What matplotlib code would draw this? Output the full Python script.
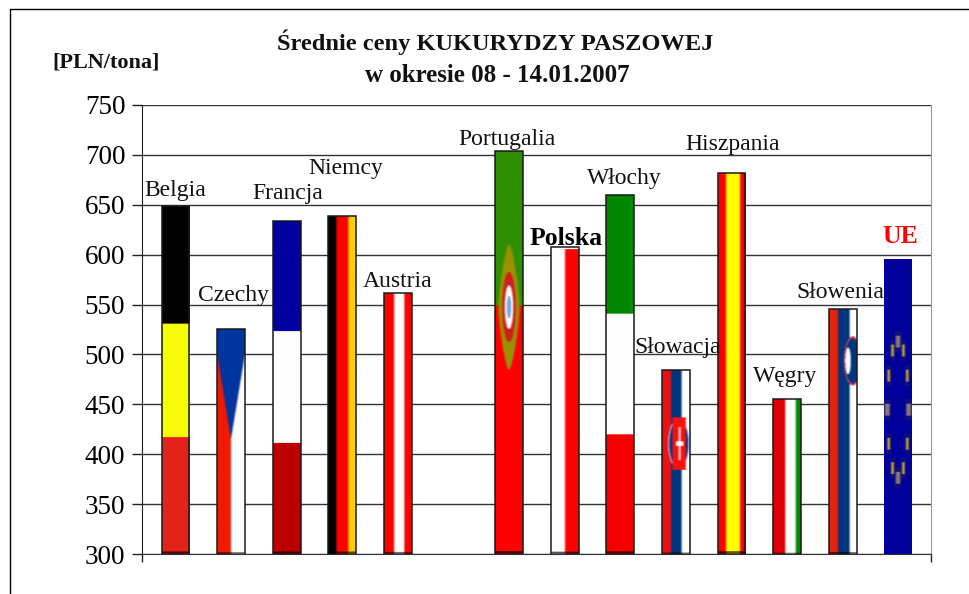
import numpy as np
import matplotlib
matplotlib.use('Agg')
import matplotlib.pyplot as plt
from matplotlib.lines import Line2D
from matplotlib.colors import to_rgb

plt.rcParams['font.family'] = ['Liberation Serif', 'DejaVu Serif']

# data
countries = ['Belgia', 'Czechy', 'Francja', 'Niemcy', 'Austria', '', 'Portugalia', 'Polska',
             'Włochy', 'Słowacja', 'Hiszpania', 'Węgry', 'Słowenia', 'UE']
prices = [649, 525, 634, 639, 562, np.nan, 704, 608, 660, 484, 682, 455, 546, 596]
y_ticks = [300, 350, 400, 450, 500, 550, 600, 650, 700, 750]

# label offset from the top centre of the bar, in pixels
label_dx = [0, 2, 1, 3, 0, 0, -2, 1, 4, 2, 1, -2, -2, 2]
label_dy = [15, 34, 27, 47, 11, 0, 11, 8, 16, 23, 28, 23, 16, 22]

# stripes: direction and (share, colour), top to bottom or left to right
flags = {
    'Belgia': ('h', [(.34, '#000000'), (.325, '#f7ff00'), (.335, '#e2231a')]),
    'Czechy': ('v', [(.5, '#f01a00'), (.5, '#ffffff')]),
    'Francja': ('h', [(1 / 3, '#0000a0'), (1 / 3, '#ffffff'), (1 / 3, '#bb0000')]),
    'Niemcy': ('v', [(.3, '#000000'), (.43, '#ff0000'), (.27, '#ffd000')]),
    'Austria': ('v', [(.36, '#ff0000'), (.37, '#ffffff'), (.27, '#ff0000')]),
    'Portugalia': ('h', [(.384, '#2f8f00'), (.616, '#ff0000')]),
    'Polska': ('v', [(.5, '#ffffff'), (.5, '#ff0000')]),
    'Włochy': ('h', [(1 / 3, '#008800'), (1 / 3, '#ffffff'), (1 / 3, '#f50000')]),
    'Słowacja': ('v', [(.33, '#f01010'), (.37, '#003580'), (.3, '#ffffff')]),
    'Hiszpania': ('v', [(.29, '#ff0000'), (.5, '#ffff00'), (.21, '#ff0000')]),
    'Węgry': ('v', [(.44, '#dd0000'), (.37, '#ffffff'), (.19, '#008a00')]),
    'Słowenia': ('v', [(.33, '#e4240e'), (.41, '#003580'), (.26, '#ffffff')]),
    'UE': ('h', [(1, '#00009a')]),
}


def ellipse(xx, yy, cx, cy, rx, ry):
    return ((xx - cx) / rx) ** 2 + ((yy - cy) / ry) ** 2 <= 1


def diamond(xx, yy, cx, cy, rx, ry):
    return np.abs((xx - cx) / rx) ** 1.4 + np.abs((yy - cy) / ry) ** 1.4 <= 1


def soften(img):
    # the flags in the original are small pictures stretched, so edges across x are soft
    kernel = np.ones(7) / 7
    padded = np.pad(img, ((0, 0), (3, 3), (0, 0)), mode='edge')
    return np.apply_along_axis(lambda r: np.convolve(r, kernel, mode='valid'), 1, padded)


def flag_image(name):
    kind, stripes = flags[name]
    img = np.zeros((400, 80, 3))
    yy, xx = np.mgrid[0:400, 0:80]
    yy = (yy + .5) / 400
    xx = (xx + .5) / 80
    pos = yy if kind == 'h' else xx
    start = 0
    for share, col in stripes:
        img[(pos >= start - 1e-9) & (pos <= start + share + 1e-9)] = to_rgb(col)
        start += share

    # details on top of the stripes
    if name == 'Czechy':
        img[(yy < .11) | ((yy < .49) & (np.abs(xx - .5) < .5 * (.49 - yy) / .38))] = to_rgb('#0035a0')
    if name == 'Polska':
        img[yy < .01] = (1, 1, 1)
    if name == 'Portugalia':
        img[diamond(xx, yy, .5, .389, .38, .156)] = to_rgb('#9a9000')
        img[ellipse(xx, yy, .5, .389, .24, .087)] = to_rgb('#d02020')
        img[ellipse(xx, yy, .5, .389, .15, .054)] = (1, 1, 1)
        img[ellipse(xx, yy, .5, .389, .08, .028)] = to_rgb('#70a8e0')
    if name == 'Słowacja':
        img[ellipse(xx, yy, .6, .40, .38, .14)] = (.8, .85, 1)
        img[ellipse(xx, yy, .6, .40, .34, .135)] = to_rgb('#003580')
        img[(xx > .37) & (xx < .85) & (np.abs(yy - .40) < .143)] = to_rgb('#fa1010')
        img[(np.abs(xx - .63) < .03) & (np.abs(yy - .40) < .09)] = (1, 1, 1)
        img[(np.abs(xx - .63) < .13) & (np.abs(yy - .40) < .012)] = (1, 1, 1)
    if name == 'Słowenia':
        img[ellipse(xx, yy, .85, .215, .32, .1)] = to_rgb('#e04050')
        img[ellipse(xx, yy, .85, .215, .28, .092)] = to_rgb('#003580')
        img[ellipse(xx, yy, .68, .215, .1, .055)] = (1, 1, 1)
    if name == 'UE':
        for k in range(12):
            a = np.radians(30 * k)
            cx = .5 + .38 * np.sin(a)
            cy = .512 - .23 * np.cos(a)
            if k % 3 == 0:
                col, half = '#8c7a78', .08
            else:
                col, half = '#c8a830', .045
            img[(np.abs(xx - cx) < half + .05) & (np.abs(yy - cy) < .035)] = to_rgb('#101080')
            img[(np.abs(xx - cx) < half) & (np.abs(yy - cy) < .02)] = to_rgb(col)
    else:
        img[yy > .992] *= .35
    return soften(img)


fig = plt.figure(figsize=(9.7, 5.94), dpi=100)
W, H = 970, 594
ax = fig.add_axes([142 / W, 1 - 554 / H, (931 - 142) / W, (554 - 105) / H])

x = np.arange(len(countries))
bars = ax.bar(x, prices, width=0.5, bottom=0, facecolor='none', edgecolor='#1a1a1a',
              linewidth=1.1, zorder=4)

ax.set_ylim(300, 750)
xlim = ((142 - 175.5) / 55.6, (931 - 175.5) / 55.6)
ax.set_xlim(xlim)

for bar, name, price, dx, dy in zip(bars, countries, prices, label_dx, label_dy):
    if not name:
        continue
    left, width = bar.get_x(), bar.get_width()
    im = ax.imshow(flag_image(name), extent=(left, left + width, 300, price), aspect='auto',
                   interpolation='bilinear', zorder=3)
    im.set_clip_path(bar)
    if name == 'UE':
        bar.set_edgecolor('none')
    style = {'fontsize': 17, 'color': '#111111'}
    if name == 'Polska':
        style = {'fontsize': 18.5, 'color': 'black', 'fontweight': 'bold'}
    if name == 'UE':
        style = {'fontsize': 18.5, 'color': '#ff0000', 'fontweight': 'bold'}
    ax.annotate(name, xy=(left + width / 2, price), xytext=(dx, dy), textcoords='offset pixels',
                ha='center', va='center', zorder=5, **style)
ax.set_xlim(xlim)
ax.set_ylim(300, 750)

ax.set_yticks(y_ticks)
ax.set_xticks(list(xlim))
ax.set_xticklabels([])
ax.tick_params(axis='y', labelsize=19.5, length=7, width=1, pad=5, color='#222222')
ax.tick_params(axis='x', length=6, width=1, color='#222222')
ax.grid(axis='y', color='#333333', linewidth=1)
ax.set_axisbelow(True)
ax.spines['top'].set_visible(False)
ax.spines['left'].set_color('#222222')
ax.spines['bottom'].set_color('#333333')
ax.spines['right'].set_color('#999999')

fig.text(495 / W, 1 - 42 / H, 'Średnie ceny KUKURYDZY PASZOWEJ', ha='center', va='center',
         fontsize=17.6, fontweight='bold', color='#111111')
fig.text(497 / W, 1 - 75 / H, 'w okresie 08 - 14.01.2007', ha='center', va='center',
         fontsize=18, fontweight='bold', color='#111111')
fig.text(106 / W, 1 - 62 / H, '[PLN/tona]', ha='center', va='center',
         fontsize=16, fontweight='bold', color='#111111')

# outer frame of the chart object, cut off by the screenshot
fig.add_artist(Line2D([10 / W, 10 / W, 1], [0, 1 - 9 / H, 1 - 9 / H], color='black', linewidth=1))

fig.savefig('out.png', dpi=100)
